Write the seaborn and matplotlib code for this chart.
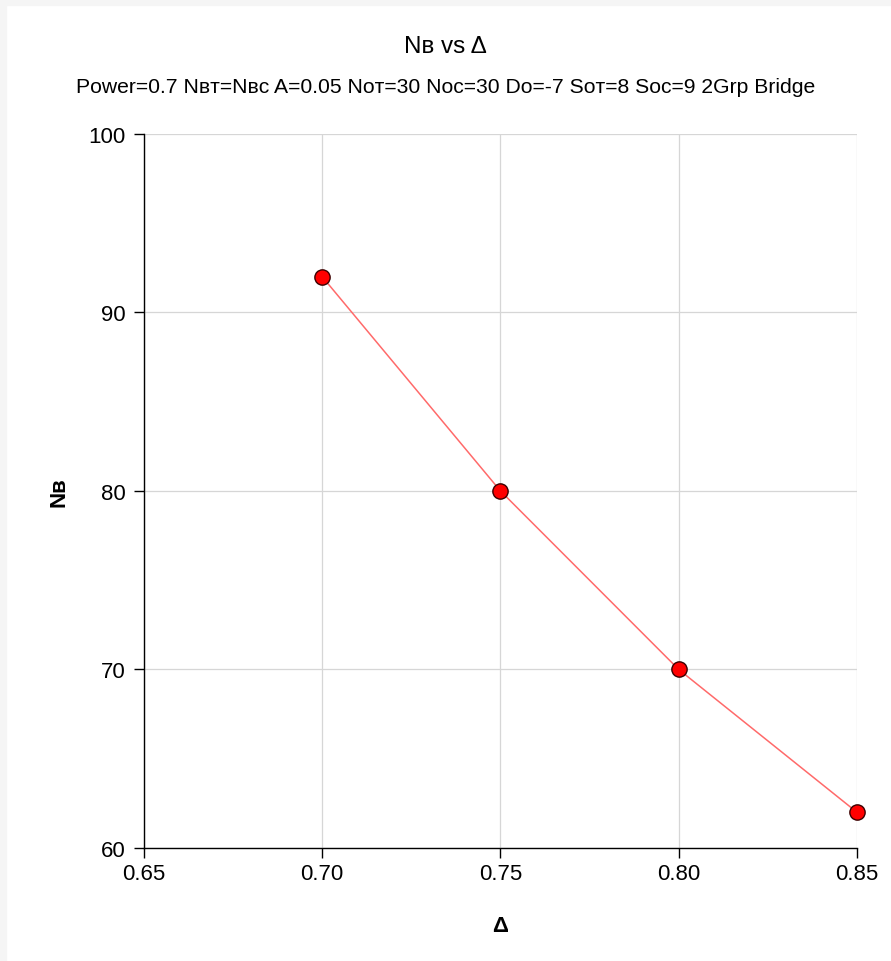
import matplotlib
matplotlib.use('Agg')
import matplotlib.pyplot as plt
import seaborn as sns
import pandas as pd

# chart data
delta = [0.70, 0.75, 0.80, 0.85]
n_b = [92, 80, 70, 62]

x_ticks = [0.65, 0.70, 0.75, 0.80, 0.85]
y_ticks = [60, 70, 80, 90, 100]

title = 'N\u0299 vs \u0394'
subtitle = ('Power=0.7 N\u0299\u1d1b=N\u0299\u1d04 A=0.05 N\u1d0f\u1d1b=30 N\u1d0f\u1d04=30 '
            'D\u1d0f=-7 S\u1d0f\u1d1b=8 S\u1d0f\u1d04=9 2Grp Bridge')

sns.set_theme(style='whitegrid')
plt.rcParams['font.family'] = ['Liberation Sans', 'DejaVu Sans']
plt.rcParams['text.color'] = 'black'
plt.rcParams['axes.labelcolor'] = 'black'

df = pd.DataFrame({'delta': delta, 'nb': n_b})

fig = plt.figure(figsize=(8.91, 9.62), dpi=100)
fig.patch.set_facecolor('white')
# light grey frame on left/top edge like the screenshot
fig.add_artist(plt.Rectangle((0, 0.994), 1, 0.006, transform=fig.transFigure, color='#f5f5f5', zorder=0))
fig.add_artist(plt.Rectangle((0, 0), 0.0067, 1, transform=fig.transFigure, color='#f5f5f5', zorder=0))

ax = fig.add_axes([0.1616, 0.1175, 0.8002, 0.7422])
sns.lineplot(data=df, x='delta', y='nb', ax=ax, color='#ff6a6a', linewidth=1.1,
             marker='o', markersize=11, markerfacecolor='#ff0000',
             markeredgecolor='#3a0000', markeredgewidth=1.0, clip_on=False, zorder=3)

ax.set_xlim(0.65, 0.85)
ax.set_ylim(60, 100)
ax.set_xticks(x_ticks)
ax.set_xticklabels([f'{v:.2f}' for v in x_ticks])
ax.set_yticks(y_ticks)
ax.set_yticklabels([str(v) for v in y_ticks])

ax.set_facecolor('white')
ax.grid(True, color='#d6d6d6', linewidth=0.9)
for s in ['top', 'right']:
    ax.spines[s].set_visible(False)
for s in ['left', 'bottom']:
    ax.spines[s].set_color('black')
    ax.spines[s].set_linewidth(1.0)
ax.tick_params(axis='both', which='major', length=7, width=1, color='black',
               labelsize=16, labelcolor='black', bottom=True, left=True)
ax.tick_params(axis='x', pad=4)
ax.tick_params(axis='y', pad=6)

ax.set_xlabel('\u0394', fontsize=16, fontweight='bold', labelpad=22)
ax.set_ylabel('N\u0299', fontsize=16, fontweight='bold', labelpad=14)

fig.text(0.5, 0.951, title, ha='center', va='center', fontsize=17.5)
fig.text(0.5, 0.909, subtitle, ha='center', va='center', fontsize=15.2)

plt.savefig('out.png', dpi=100)
